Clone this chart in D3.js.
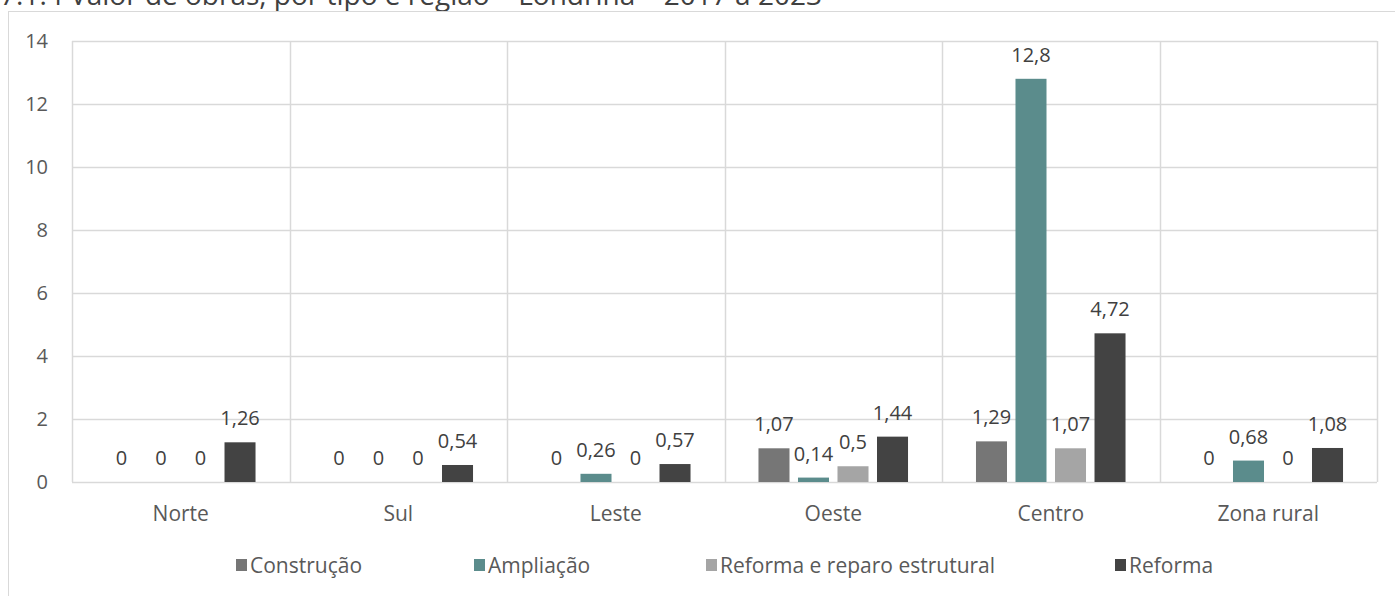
<!DOCTYPE html>
<html>
<head>
<meta charset="utf-8">
<script src="https://cdn.jsdelivr.net/npm/d3@7"></script>
<style>
  html, body { margin: 0; padding: 0; background: #fff; }
  svg { display: block; font-family: "Open Sans", "Liberation Sans", sans-serif; }
</style>
</head>
<body>
<svg id="chart" width="1395" height="596"></svg>
<script>
// Regions and the value (R$ milhões) of each kind of work
const regions = ["Norte", "Sul", "Leste", "Oeste", "Centro", "Zona rural"];
const seriesNames = ["Construção", "Ampliação", "Reforma e reparo estrutural", "Reforma"];
const construcao = [0, 0, 0, 1.07, 1.29, 0];
const ampliacao = [0, 0, 0.26, 0.14, 12.8, 0.68];
const reformaReparo = [0, 0, 0, 0.5, 1.07, 0];
const reforma = [1.26, 0.54, 0.57, 1.44, 4.72, 1.08];
const yTicks = [0, 2, 4, 6, 8, 10, 12, 14];
const seriesColors = ["#767676", "#5b8c8c", "#a5a5a5", "#434343"];
const legendX = [236, 474, 706, 1115];

const seriesValues = [construcao, ampliacao, reformaReparo, reforma];

const svg = d3.select("#chart");
const plot = { left: 72, right: 1377, top: 41, bottom: 482 };

// Title
svg.append("text")
  .attr("x", 0).attr("y", 5)
  .attr("font-size", 28).attr("fill", "#404040")
  .text("7.1.4 Valor de obras, por tipo e região – Londrina – 2017 a 2023");

// Chart frame
svg.append("rect")
  .attr("x", 8.5).attr("y", 11.5)
  .attr("width", 1400).attr("height", 600)
  .attr("fill", "none").attr("stroke", "#d9d9d9").attr("stroke-width", 1);

const x0 = d3.scaleBand().domain(regions).range([plot.left, plot.right]).padding(0);
const x1 = d3.scaleBand().domain(d3.range(seriesNames.length))
  .range([0, x0.bandwidth()]).paddingInner(0.215).paddingOuter(0.86);
const y = d3.scaleLinear().domain([0, 14]).range([plot.bottom, plot.top]);

// Horizontal gridlines
svg.append("g").selectAll("line").data(yTicks).join("line")
  .attr("x1", plot.left).attr("x2", plot.right)
  .attr("y1", d => Math.round(y(d)) + 0.5).attr("y2", d => Math.round(y(d)) + 0.5)
  .attr("stroke", "#d9d9d9").attr("stroke-width", 1.5);

// Vertical separators between regions
const bounds = regions.map(r => x0(r)).concat([plot.right]);
svg.append("g").selectAll("line").data(bounds).join("line")
  .attr("x1", d => Math.round(d) + 0.5).attr("x2", d => Math.round(d) + 0.5)
  .attr("y1", plot.top).attr("y2", plot.bottom)
  .attr("stroke", "#d9d9d9").attr("stroke-width", 1.5);

// Y axis labels
const yAxis = d3.axisLeft(y).tickValues(yTicks).tickSize(0).tickPadding(0)
  .tickFormat(d => d);
const yg = svg.append("g").attr("transform", `translate(48,0)`).call(yAxis);
yg.select(".domain").remove();
yg.selectAll("text").attr("font-size", 20).attr("fill", "#595959")
  .attr("font-family", "'Open Sans', sans-serif");

// X axis labels
const xAxis = d3.axisBottom(x0).tickSize(0).tickPadding(0);
const xg = svg.append("g").attr("transform", `translate(0,${plot.bottom + 24})`).call(xAxis);
xg.select(".domain").remove();
xg.selectAll("text").attr("font-size", 21).attr("fill", "#595959")
  .attr("font-family", "'Open Sans', sans-serif");

// Bars and value labels
const fmt = v => String(v).replace(".", ",");
const cells = [];
regions.forEach((r, i) => {
  seriesValues.forEach((vals, s) => cells.push({ region: r, s, v: vals[i] }));
});

svg.append("g").selectAll("rect").data(cells.filter(d => d.v > 0)).join("rect")
  .attr("x", d => x0(d.region) + x1(d.s))
  .attr("y", d => y(d.v))
  .attr("width", x1.bandwidth())
  .attr("height", d => y(0) - y(d.v))
  .attr("fill", d => seriesColors[d.s]);

svg.append("g").selectAll("text").data(cells).join("text")
  .attr("x", d => x0(d.region) + x1(d.s) + x1.bandwidth() / 2)
  .attr("y", d => y(d.v) - 17)
  .attr("text-anchor", "middle")
  .attr("font-size", 20).attr("fill", "#404040")
  .text(d => fmt(d.v));

// Legend
const lg = svg.append("g");
seriesNames.forEach((name, s) => {
  lg.append("rect").attr("x", legendX[s]).attr("y", 559)
    .attr("width", 11).attr("height", 12).attr("fill", seriesColors[s]);
  lg.append("text").attr("x", legendX[s] + 14).attr("y", 573)
    .attr("font-size", 21).attr("fill", "#595959").text(name);
});
</script>
</body>
</html>
